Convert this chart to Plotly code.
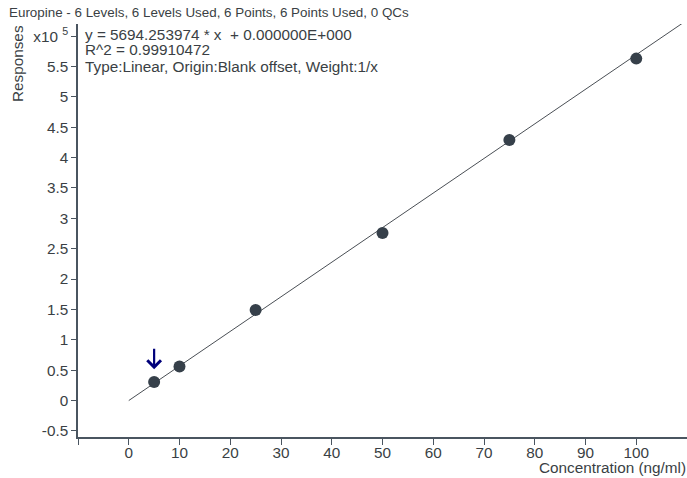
import plotly.graph_objects as go

# calibration levels (ng/ml) and measured responses
concentration = [5, 10, 25, 50, 75, 100]
responses = [30500, 56000, 149000, 276000, 429000, 563000]

slope = 5694.253974
intercept = 0.0
fit_x = [0, 110]
fit_y = [slope * x + intercept for x in fit_x]

flagged = 0  # index of the point marked with the arrow

x_ticks = [-10, 0, 10, 20, 30, 40, 50, 60, 70, 80, 90, 100]
x_labels = [""] + [str(v) for v in x_ticks[1:]]
y_ticks = [-0.5, 0, 0.5, 1, 1.5, 2, 2.5, 3, 3.5, 4, 4.5, 5, 5.5, 6]
y_labels = ["-0.5", "0", "0.5", "1", "1.5", "2", "2.5", "3", "3.5", "4", "4.5", "5", "5.5", "x10 <sup>5</sup>"]

title = "Europine - 6 Levels, 6 Levels Used, 6 Points, 6 Points Used, 0 QCs"
info = [
    "y = 5694.253974 * x &nbsp;+ 0.000000E+000",
    "R^2 = 0.99910472",
    "Type:Linear, Origin:Blank offset, Weight:1/x",
]
info_shift = [-10, -25, -42]

axis_col = "#4a5560"
text_col = "#3a3f44"
font = "Liberation Sans, Arial, sans-serif"
fs = 15.3

fig = go.Figure()
fig.add_trace(go.Scatter(
    x=fit_x, y=fit_y, mode="lines",
    line=dict(color="#4a4f55", width=1), hoverinfo="skip",
))
fig.add_trace(go.Scatter(
    x=concentration, y=responses, mode="markers",
    marker=dict(color="#36404a", size=12),
))

fig.add_annotation(
    x=concentration[flagged], y=responses[flagged] + 21000,
    ax=0, ay=-22, showarrow=True, arrowhead=4, arrowsize=1.2,
    arrowwidth=2.2, arrowcolor="#00007a", text="",
)

fig.add_annotation(
    text=title, xref="paper", yref="paper", x=0, y=1,
    xshift=-71, yshift=12, xanchor="left", yanchor="middle",
    showarrow=False, font=dict(size=13.4, color=text_col),
)
for line, dy in zip(info, info_shift):
    fig.add_annotation(
        text=line, xref="paper", yref="paper", x=0, y=1,
        xshift=5, yshift=dy, xanchor="left", yanchor="middle",
        showarrow=False, font=dict(size=fs, color=text_col),
    )
fig.add_annotation(
    text="Responses", xref="paper", yref="paper", x=0, y=1,
    xshift=-61, yshift=-40, textangle=-90, xanchor="center", yanchor="middle",
    showarrow=False, font=dict(size=fs, color=text_col),
)
fig.add_annotation(
    text="Concentration (ng/ml)", xref="paper", yref="paper", x=1, y=0,
    xshift=1, yshift=-30, xanchor="right", yanchor="middle",
    showarrow=False, font=dict(size=fs, color=text_col),
)

fig.update_layout(
    width=687, height=478,
    margin=dict(l=78, r=0, t=24, b=41),
    plot_bgcolor="white", paper_bgcolor="white",
    showlegend=False,
    font=dict(family=font, size=fs, color=text_col),
)
fig.update_xaxes(
    range=[-10, 110], tickvals=x_ticks, ticktext=x_labels,
    showgrid=False, zeroline=False, showline=True, linecolor=axis_col,
    linewidth=1.5, ticks="outside", ticklen=6, tickcolor=axis_col,
    ticklabelstandoff=-5,
)
fig.update_yaxes(
    range=[-60000, 620000], tickvals=[v * 1e5 for v in y_ticks], ticktext=y_labels,
    showgrid=False, zeroline=False, showline=True, linecolor=axis_col,
    linewidth=1.5, ticks="outside", ticklen=5, tickcolor=axis_col,
)

# the page's default body margin would push the figure out of the window
fig.write_html(
    "out.html",
    config={"displayModeBar": False},
    post_script="document.body.style.margin = '0';",
)
